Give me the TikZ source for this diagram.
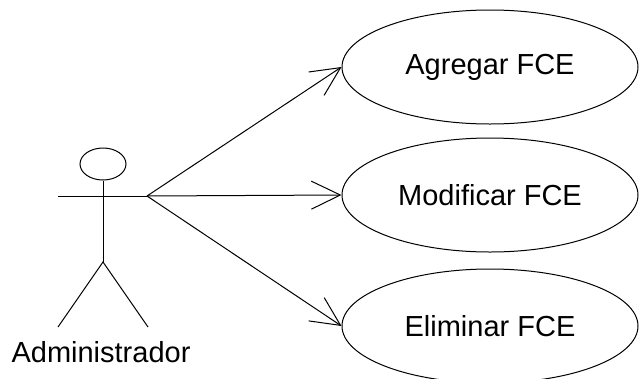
\documentclass[tikz,border=0pt]{standalone}
\usepackage{fontspec}
\setmainfont{Liberation Sans}
\usetikzlibrary{shapes.geometric,arrows.meta}
\begin{document}
\begin{tikzpicture}[x=1pt,y=-1pt,
  line width=1pt,
  usecase/.style={draw,ellipse,minimum width=296pt,minimum height=114pt,inner sep=0pt,font=\fontsize{29}{34}\selectfont},
  assoc/.style={-{Straight Barb[length=29pt,width=28pt,line width=1pt]}}]
\useasboundingbox (0,0) rectangle (639,378);
\begin{scope}
\clip (0,0) rectangle (639,378);
\node[usecase] (agregar) at (490,67) {Agregar FCE};
\node[usecase] (modificar) at (490,195) {Modificar FCE};
\node[usecase] (eliminar) at (490,326) {Eliminar FCE};
\end{scope}
% actor
\node[draw,ellipse,minimum width=46pt,minimum height=32pt,inner sep=0pt] (head) at (103,164) {};
\coordinate (neck) at (103,196);
\coordinate (armL) at (58,196);
\coordinate (armR) at (147,196);
\coordinate (hip) at (103,262);
\coordinate (footL) at (58,327);
\coordinate (footR) at (148,327);
\draw (head.south) -- (hip);
\draw (armL) -- (armR);
\draw (footL) -- (hip) -- (footR);
\node[font=\fontsize{29}{34}\selectfont,inner sep=0pt] (label) at (101,352) {Administrador};
% associations
\draw[assoc] (armR) -- (agregar.west);
\draw[assoc] (armR) -- (modificar.west);
\draw[assoc] (armR) -- (eliminar.west);
\end{tikzpicture}
\end{document}
